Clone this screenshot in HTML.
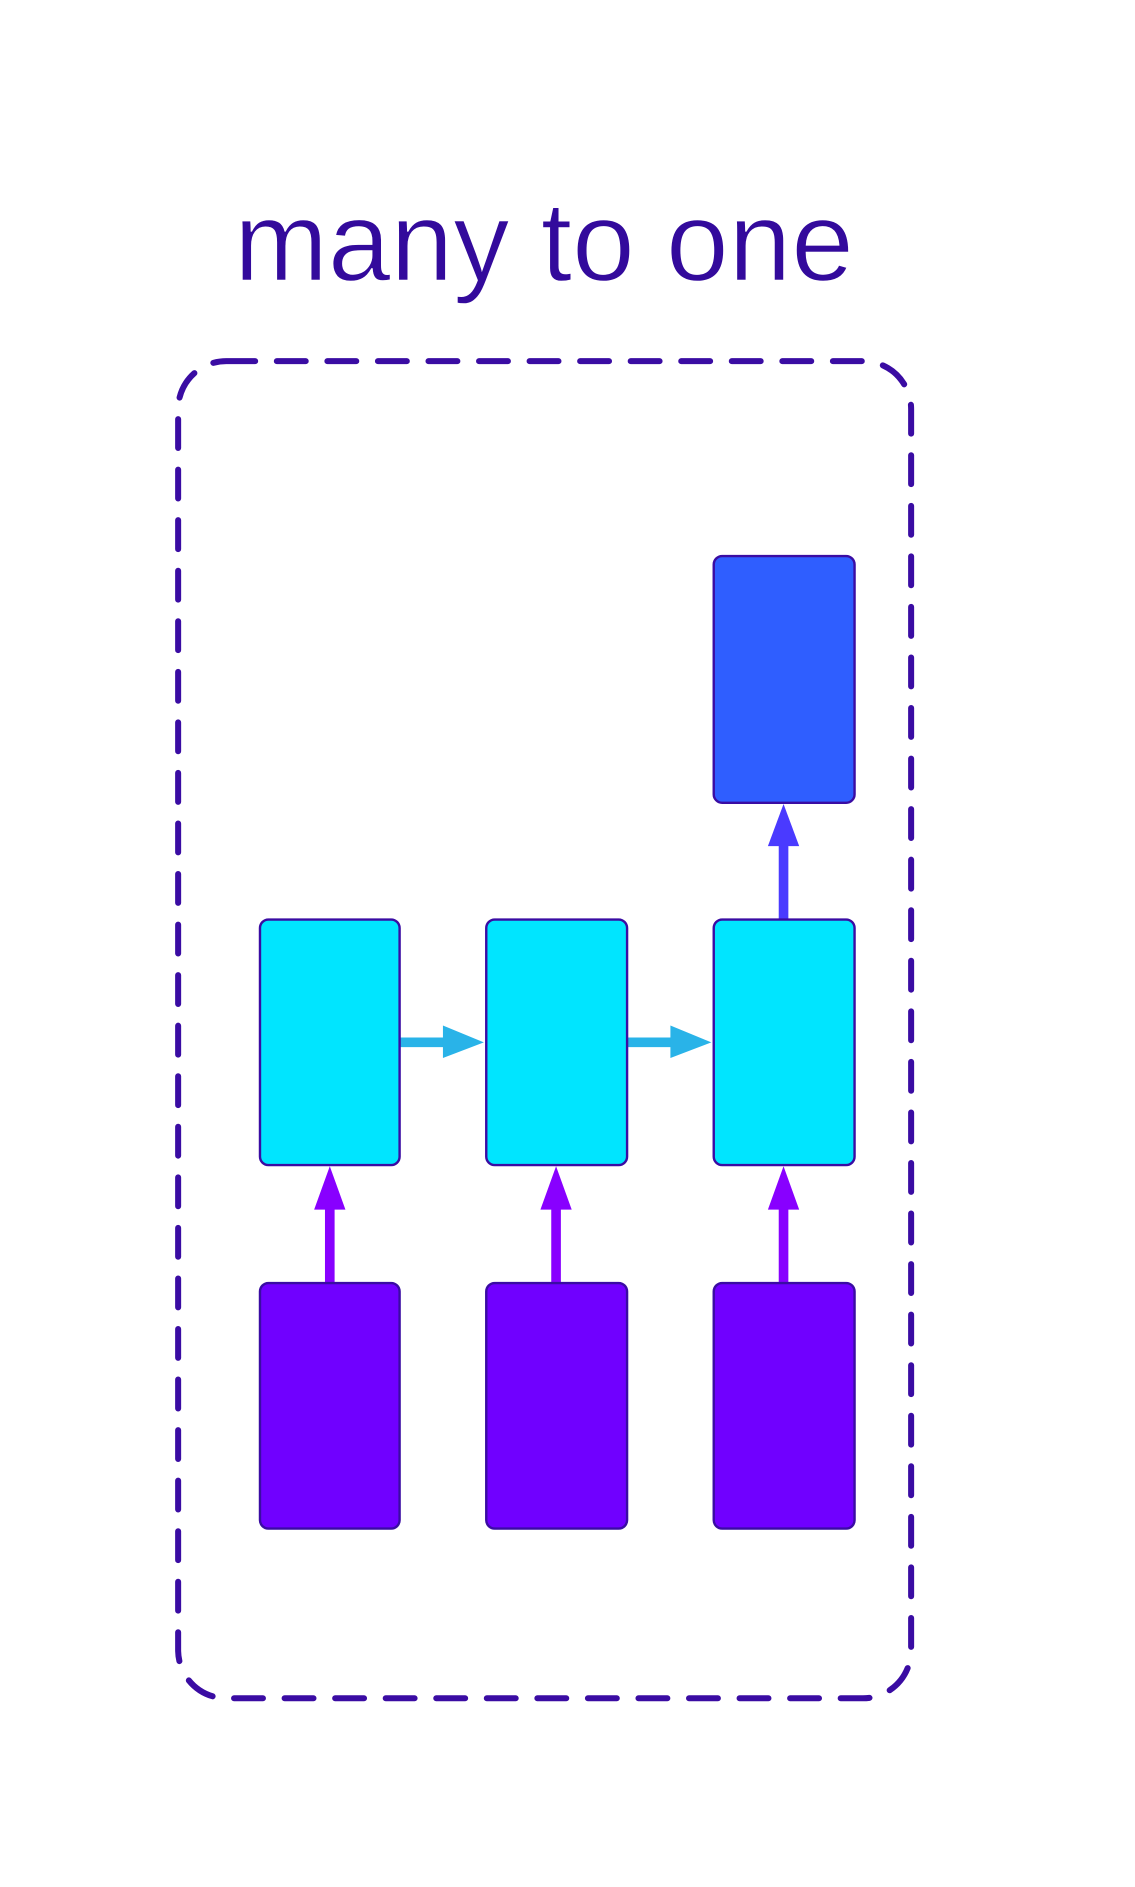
<!DOCTYPE html>
<html><head><meta charset="utf-8"><style>html,body{margin:0;padding:0;background:#fff}svg{display:block}</style></head>
<body>
<svg width="1135" height="1887" viewBox="0 0 943 1567.8" xmlns="http://www.w3.org/2000/svg">
<rect width="943" height="1568" fill="#fff"/>
<text x="452" y="233" text-anchor="middle" font-family="Liberation Sans, sans-serif" font-size="94" fill="#330a9c" stroke="#fff" stroke-width="1.2" textLength="515" lengthAdjust="spacingAndGlyphs">many to one</text>
<rect x="148" y="300" width="609" height="1111" rx="40" fill="none" stroke="#3a0ca3" stroke-width="5" stroke-dasharray="24 18" stroke-linecap="round"/>
<g><rect x="332" y="862" width="38" height="8" fill="#29b3e8"/><polygon points="368,852 402,866 368,879" fill="#29b3e8"/></g>
<g><rect x="521" y="862" width="38" height="8" fill="#29b3e8"/><polygon points="557,852 591,866 557,879" fill="#29b3e8"/></g>
<g><rect x="270" y="1003" width="8" height="64" fill="#8800ff"/><polygon points="274,969 287,1005 261,1005" fill="#8800ff"/></g>
<g><rect x="458" y="1003" width="8" height="64" fill="#8800ff"/><polygon points="462,969 475,1005 449,1005" fill="#8800ff"/></g>
<g><rect x="647" y="1003" width="8" height="64" fill="#8800ff"/><polygon points="651,969 664,1005 638,1005" fill="#8800ff"/></g>
<g><rect x="647" y="700" width="8" height="66" fill="#4a3aff"/><polygon points="651,668 664,703 638,703" fill="#4a3aff"/></g>
<g stroke="#3a0ca3" stroke-width="2">
<rect x="593" y="462" width="117" height="205" rx="7" fill="#2f5eff"/>
<rect x="216" y="764" width="116" height="204" rx="7" fill="#00e5ff"/>
<rect x="404" y="764" width="117" height="204" rx="7" fill="#00e5ff"/>
<rect x="593" y="764" width="117" height="204" rx="7" fill="#00e5ff"/>
<rect x="216" y="1066" width="116" height="204" rx="7" fill="#7000ff"/>
<rect x="404" y="1066" width="117" height="204" rx="7" fill="#7000ff"/>
<rect x="593" y="1066" width="117" height="204" rx="7" fill="#7000ff"/>
</g>
</svg>
</body></html>
